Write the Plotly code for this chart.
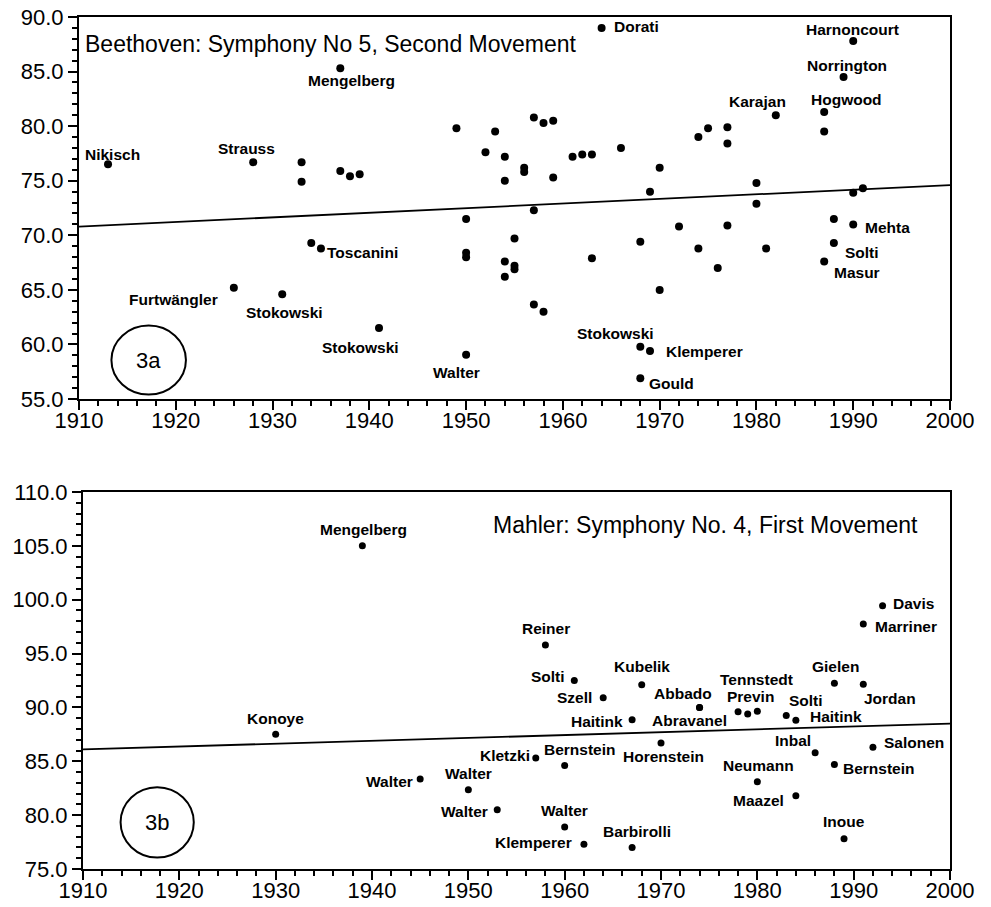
import plotly.graph_objects as go

# ---------------- Data: Beethoven Symphony No 5, 2nd movement (3a) ----------------
beet_years = [1913, 1926, 1928, 1931, 1933, 1933, 1934, 1935, 1937, 1937, 1938, 1939, 1941,
              1949, 1950, 1950, 1950, 1950, 1952, 1953, 1954, 1954, 1954, 1954, 1955, 1955,
              1955, 1956, 1956, 1957, 1957, 1957, 1958, 1958, 1959, 1959, 1961, 1962, 1963,
              1963, 1964, 1966, 1968, 1968, 1968, 1969, 1969, 1970, 1970, 1972, 1974, 1974,
              1975, 1976, 1977, 1977, 1977, 1980, 1980, 1981, 1982, 1987, 1987, 1987, 1988,
              1988, 1989, 1990, 1990, 1990, 1991]
beet_tempo = [76.5, 65.2, 76.7, 64.6, 76.7, 74.9, 69.3, 68.8, 85.3, 75.9, 75.4, 75.6, 61.5,
              79.8, 71.5, 68.4, 68.0, 59.05, 77.6, 79.5, 77.2, 75.0, 67.6, 66.2, 69.7, 67.2,
              66.9, 76.2, 75.8, 80.8, 72.3, 63.65, 80.3, 63.0, 80.5, 75.3, 77.2, 77.4, 77.4,
              67.9, 89.0, 78.0, 69.4, 59.8, 56.9, 74.0, 59.4, 76.2, 65.0, 70.8, 79.0, 68.8,
              79.8, 67.0, 79.9, 78.4, 70.9, 74.8, 72.9, 68.8, 81.0, 81.3, 79.5, 67.6, 71.5,
              69.3, 84.5, 87.8, 73.9, 71.0, 74.3]
beet_names = ["Nikisch", "Furtwängler", "Strauss", "Stokowski", "", "", "", "Toscanini",
              "Mengelberg", "", "", "", "Stokowski",
              "", "", "", "", "Walter", "", "", "", "", "", "", "", "",
              "", "", "", "", "", "", "", "", "", "", "", "", "",
              "", "Dorati", "", "", "Stokowski", "Gould", "", "Klemperer", "", "", "", "", "",
              "", "", "", "", "", "", "", "", "Karajan", "Hogwood", "", "Masur", "",
              "Solti", "Norrington", "Harnoncourt", "", "Mehta", ""]
beet_trend_years = [1910, 2000]
beet_trend_tempo = [70.8, 74.6]

# ---------------- Data: Mahler Symphony No. 4, 1st movement (3b) ----------------
mahl_years = [1930, 1939, 1945, 1950, 1953, 1957, 1958, 1960, 1960, 1961, 1962, 1964, 1967,
              1967, 1968, 1970, 1974, 1974, 1978, 1979, 1980, 1980, 1983, 1984, 1984, 1986,
              1988, 1988, 1989, 1991, 1991, 1992, 1993]
mahl_tempo = [87.5, 105.0, 83.35, 82.35, 80.5, 85.3, 95.8, 84.6, 78.9, 92.5, 77.3, 90.9, 88.85,
              77.0, 92.1, 86.7, 90.0, 90.0, 89.6, 89.4, 89.65, 83.1, 89.25, 88.8, 81.8, 85.8,
              92.25, 84.7, 77.8, 92.15, 97.75, 86.3, 99.45]
mahl_names = ["Konoye", "Mengelberg", "Walter", "Walter", "Walter", "Kletzki", "Reiner",
              "Bernstein", "Walter", "Solti", "Klemperer", "Szell", "Haitink", "Barbirolli",
              "Kubelik", "Horenstein", "Abbado", "Abravanel", "Tennstedt", "Previn", "",
              "Neumann", "Solti", "Haitink", "Maazel", "Inbal", "Gielen", "Bernstein", "Inoue",
              "Jordan", "Marriner", "Salonen", "Davis"]
mahl_trend_years = [1910, 2000]
mahl_trend_tempo = [86.1, 88.5]

# ---------------- Label placement (pixel offsets of text centre from the dot) -------------
beet_label_offsets = {
    0: (4, -10), 1: (-60, 12), 2: (-7, -14), 3: (2, 18), 7: (42, 4), 8: (11, 12),
    12: (-19, 19), 17: (-10, 18), 40: (35, -1), 43: (-25, -13), 44: (31, 5),
    46: (55, 0), 60: (-18, -14), 61: (22, -12), 63: (33, 11), 65: (28, 10),
    66: (3, -12), 67: (-1, -12), 69: (34, 3),
}
mahl_label_offsets = {
    0: (0, -16), 1: (1, -16), 2: (-31, 2), 3: (0, -16), 4: (-33, 2), 5: (-31, -3),
    6: (1, -16), 7: (15, -16), 8: (0, -16), 9: (-26, -4), 10: (-50, -2), 11: (-29, 0),
    12: (-35, 2), 13: (5, -16), 14: (0, -18), 15: (2, 14), 16: (-17, -14), 17: (-10, 13),
    18: (18, -32), 19: (3, -17), 21: (1, -16), 22: (20, -15), 23: (40, -4),
    24: (-37, 5), 25: (-22, -12), 26: (1, -17), 27: (45, 4), 28: (0, -17),
    29: (27, 14), 30: (43, 3), 31: (41, -5), 32: (31, -2),
}

FONT = "Liberation Sans, Arial, Helvetica, sans-serif"
LABEL_FONT = dict(family=FONT, size=15.5, color="black", weight="bold")

fig = go.Figure()

fig.add_trace(go.Scatter(x=beet_years, y=beet_tempo, mode="markers",
                         marker=dict(size=8, color="black"), xaxis="x", yaxis="y",
                         showlegend=False, hoverinfo="skip"))
fig.add_trace(go.Scatter(x=beet_trend_years, y=beet_trend_tempo, mode="lines",
                         line=dict(color="black", width=1.8), xaxis="x", yaxis="y",
                         showlegend=False, hoverinfo="skip"))
fig.add_trace(go.Scatter(x=mahl_years, y=mahl_tempo, mode="markers",
                         marker=dict(size=7, color="black"), xaxis="x2", yaxis="y2",
                         showlegend=False, hoverinfo="skip"))
fig.add_trace(go.Scatter(x=mahl_trend_years, y=mahl_trend_tempo, mode="lines",
                         line=dict(color="black", width=1.8), xaxis="x2", yaxis="y2",
                         showlegend=False, hoverinfo="skip"))

annotations = []
for i, name in enumerate(beet_names):
    if name and i in beet_label_offsets:
        dx, dy = beet_label_offsets[i]
        annotations.append(dict(x=beet_years[i], y=beet_tempo[i], xref="x", yref="y",
                                text=name, showarrow=False, xanchor="center", yanchor="middle",
                                xshift=dx, yshift=-dy, font=LABEL_FONT))
for i, name in enumerate(mahl_names):
    if name and i in mahl_label_offsets:
        dx, dy = mahl_label_offsets[i]
        annotations.append(dict(x=mahl_years[i], y=mahl_tempo[i], xref="x2", yref="y2",
                                text=name, showarrow=False, xanchor="center", yanchor="middle",
                                xshift=dx, yshift=-dy, font=LABEL_FONT))

# Titles inside the panels
annotations.append(dict(x=0.005, y=0.968, xref="paper", yref="paper",
                        text="Beethoven: Symphony No 5, Second Movement", showarrow=False,
                        xanchor="left", yanchor="middle",
                        font=dict(family=FONT, size=23, color="black")))
annotations.append(dict(x=0.7195, y=0.4035, xref="paper", yref="paper",
                        text="Mahler: Symphony No. 4, First Movement", showarrow=False,
                        xanchor="center", yanchor="middle",
                        font=dict(family=FONT, size=23, color="black")))
# Panel tags
annotations.append(dict(x=1917.2, y=58.57, xref="x", yref="y", text="3a", showarrow=False,
                        font=dict(family=FONT, size=22, color="black")))
annotations.append(dict(x=1917.7, y=79.34, xref="x2", yref="y2", text="3b", showarrow=False,
                        font=dict(family=FONT, size=22, color="black")))

shapes = [
    dict(type="circle", xref="x", yref="y", x0=1913.35, x1=1921.05, y0=55.41, y1=61.73,
         line=dict(color="black", width=2)),
    dict(type="circle", xref="x2", yref="y2", x0=1913.9, x1=1921.5, y0=76.07, y1=82.6,
         line=dict(color="black", width=2)),
]

tickfont = dict(family=FONT, size=22, color="black")
common_x = dict(range=[1910, 2000], tick0=1910, dtick=10, ticks="outside", ticklen=9,
                tickwidth=2, tickcolor="black", showline=True, linecolor="black",
                linewidth=2, mirror=True, showgrid=False, zeroline=False, tickfont=tickfont,
                automargin=False, ticklabelstandoff=-8,
                minor=dict(dtick=2, tick0=1910, ticks="outside", ticklen=5, tickwidth=1.5,
                           tickcolor="black", showgrid=False))
common_y = dict(dtick=5, ticks="outside", ticklen=9, tickwidth=2, tickcolor="black",
                showline=True, linecolor="black", linewidth=2, mirror=True, showgrid=False,
                zeroline=False, tickformat=".1f", tickfont=tickfont, automargin=False,
                minor=dict(dtick=1, ticks="outside", ticklen=5, tickwidth=1.5,
                           tickcolor="black", showgrid=False))

fig.update_layout(
    width=991, height=907,
    margin=dict(l=79, r=41, t=17, b=38),
    paper_bgcolor="white", plot_bgcolor="white",
    xaxis=dict(domain=[0, 1], anchor="y", **common_x),
    yaxis=dict(domain=[0.5516, 1], anchor="x", range=[55, 90], tick0=55, **common_y),
    xaxis2=dict(domain=[0.0046, 1], anchor="y2", **common_x),
    yaxis2=dict(domain=[0, 0.4425], anchor="x2", range=[75, 110], tick0=75, **common_y),
    annotations=annotations,
    shapes=shapes,
    showlegend=False,
)

fig.write_html("out.html", config={"displayModeBar": False},
               post_script="document.body.style.margin='0';document.body.style.padding='0';"
                           "document.body.style.overflow='hidden';")
